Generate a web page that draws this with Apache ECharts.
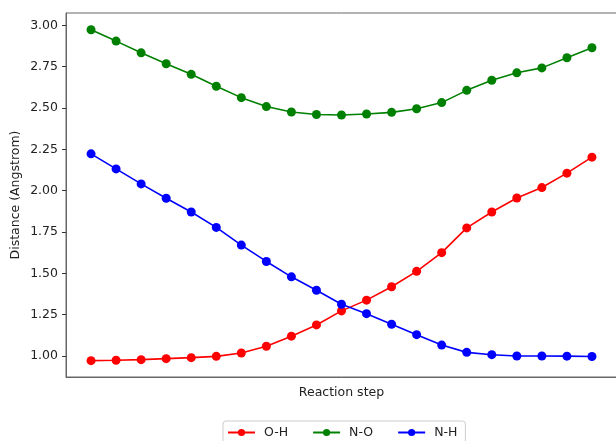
<!DOCTYPE html>
<html>
<head>
<meta charset="utf-8">
<script src="https://cdn.jsdelivr.net/npm/echarts@6/dist/echarts.min.js"></script>
<style>
  html, body { margin: 0; padding: 0; background: #fff; }
  #chart { width: 616px; height: 441px; }
</style>
</head>
<body>
<div id="chart"></div>
<script>
// Bond distances along the reaction coordinate (Angstrom)
const steps = [0, 1, 2, 3, 4, 5, 6, 7, 8, 9, 10, 11, 12, 13, 14, 15, 16, 17, 18, 19, 20];
const ohDist = [0.972, 0.974, 0.978, 0.984, 0.990, 0.998, 1.018, 1.059, 1.120, 1.188, 1.273,
                1.338, 1.419, 1.512, 1.625, 1.775, 1.871, 1.956, 2.019, 2.106, 2.203];
const noDist = [2.974, 2.905, 2.834, 2.768, 2.704, 2.632, 2.563, 2.509, 2.476, 2.461, 2.458,
                2.464, 2.474, 2.496, 2.533, 2.607, 2.668, 2.713, 2.743, 2.804, 2.865];
const nhDist = [2.223, 2.132, 2.041, 1.954, 1.871, 1.778, 1.671, 1.572, 1.479, 1.398, 1.313,
                1.256, 1.192, 1.129, 1.066, 1.022, 1.008, 1.000, 1.000, 0.999, 0.997];
const yTicks = [1.00, 1.25, 1.50, 1.75, 2.00, 2.25, 2.50, 2.75, 3.00];

const font = 'DejaVu Sans';
const pair = arr => steps.map((s, i) => [s, arr[i]]);

function lineSeries(name, color, values) {
  return {
    name: name,
    type: 'line',
    data: pair(values),
    symbol: 'circle',
    symbolSize: 9,
    showSymbol: true,
    lineStyle: { color: color, width: 1.6 },
    itemStyle: { color: color },
    emphasis: { disabled: true },
    animation: false
  };
}

const chart = echarts.init(document.getElementById('chart'), null, { renderer: 'canvas' });
chart.setOption({
  backgroundColor: '#ffffff',
  animation: false,
  grid: {
    left: 66, top: 13, width: 551, height: 364,
    show: true, borderColor: '#666', borderWidth: 1, backgroundColor: 'transparent',
    containLabel: false,
    outerBoundsMode: 'none'
  },
  legend: {
    data: ['O-H', 'N-O', 'N-H'],
    left: 223, top: 421,
    orient: 'horizontal',
    itemWidth: 27, itemHeight: 9, itemGap: 24,
    padding: [5, 8, 10, 4],
    borderColor: '#cccccc', borderWidth: 1, borderRadius: 3,
    textStyle: { fontFamily: font, fontSize: 12.5, color: '#222', padding: [0, 0, 0, 4] }
  },
  xAxis: {
    type: 'value',
    min: -1, max: 21,
    name: 'Reaction step',
    nameLocation: 'middle',
    nameGap: 9,
    nameTextStyle: { fontFamily: font, fontSize: 12.5, color: '#222' },
    axisLine: { show: true, onZero: false, lineStyle: { color: '#666', width: 1 } },
    axisTick: { show: false },
    axisLabel: { show: false },
    splitLine: { show: false }
  },
  yAxis: {
    type: 'value',
    min: 0.873, max: 3.075,
    name: 'Distance (Angstrom)',
    nameLocation: 'middle',
    nameGap: 44,
    nameMoveOverlap: false,
    nameRotate: 90,
    nameTextStyle: { fontFamily: font, fontSize: 12.5, color: '#222' },
    axisLine: { show: true, onZero: false, lineStyle: { color: '#666', width: 1 } },
    axisTick: { show: true, inside: false, length: 4, customValues: yTicks, lineStyle: { color: '#333', width: 1 } },
    axisLabel: {
      customValues: yTicks,
      margin: 8,
      fontFamily: font, fontSize: 12.5, color: '#222',
      formatter: v => v.toFixed(2)
    },
    splitLine: { show: false }
  },
  series: [
    lineSeries('O-H', '#ff0000', ohDist),
    lineSeries('N-O', '#008000', noDist),
    lineSeries('N-H', '#0000ff', nhDist)
  ]
});
</script>
</body>
</html>
